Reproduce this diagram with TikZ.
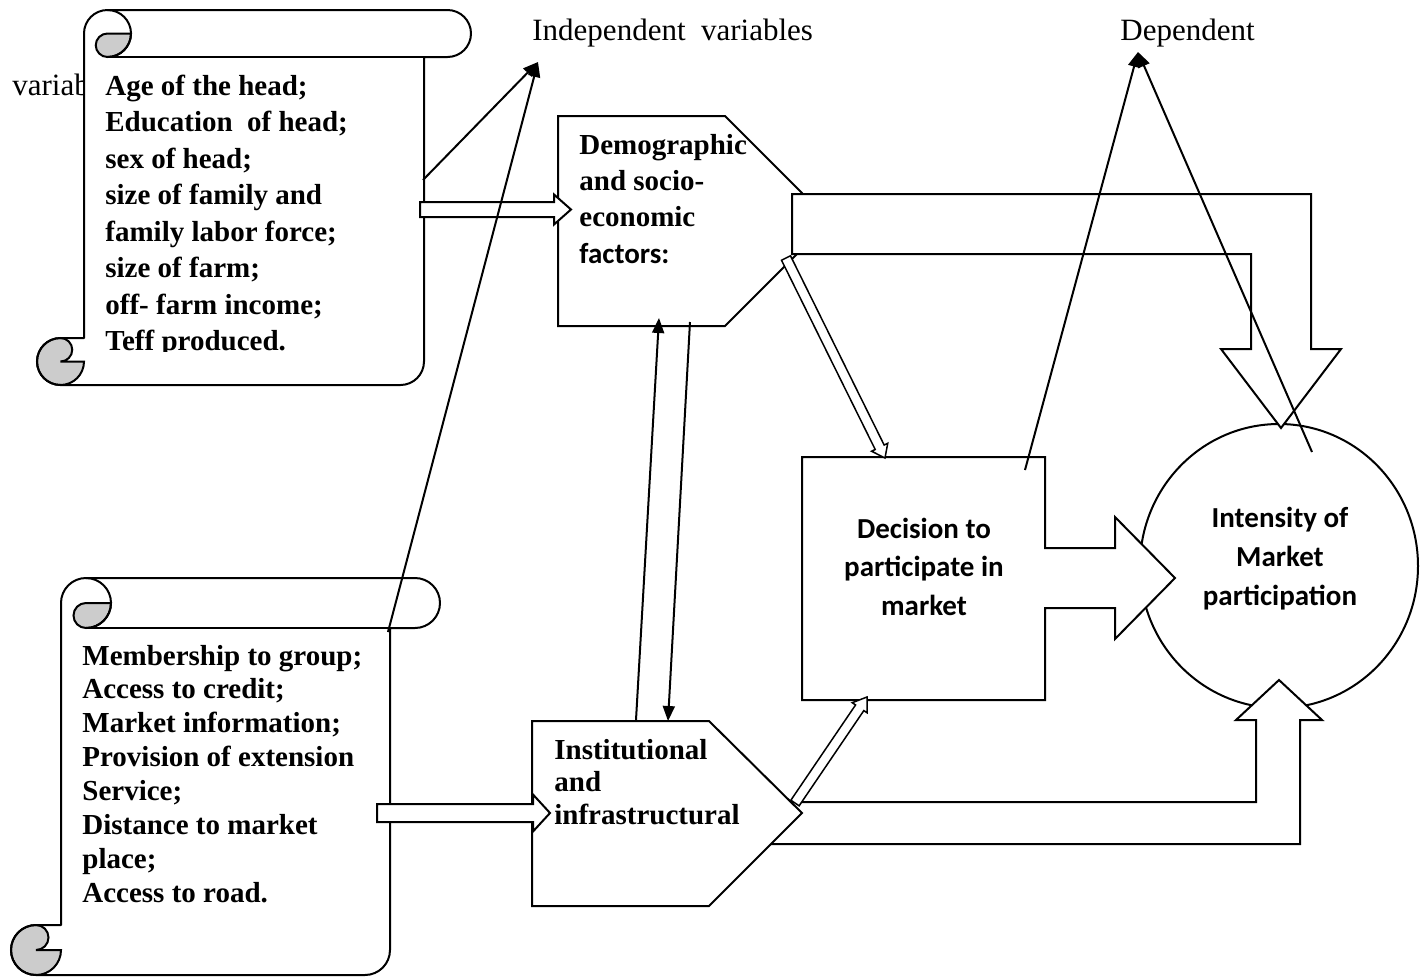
\documentclass[tikz,border=0pt]{standalone}
\usepackage{fontspec}
\setmainfont{Liberation Serif}
\newfontfamily\carlito{Carlito}
\usetikzlibrary{calc,arrows.meta,shapes.geometric}

\tikzset{
  shapeline/.style={draw=black, line width=1pt, fill=white, line join=miter},
  blockarrow/.style={draw=black, line width=1pt, fill=white, line join=miter},
  thinarrow/.style={draw=black, line width=1pt, -{Triangle[length=7.5pt,width=6pt]}},
  boldtext/.style={inner sep=0pt, anchor=base west, font=\bfseries},
  lbl/.style={inner sep=0pt, anchor=base west, font=\fontsize{15.5}{18}\selectfont},
  curl/.style={draw=black, line width=1pt, fill=black!20},
}

% vertical scroll: l, t, r, b, ch (picture units, y downwards)
\newcommand{\vscroll}[5]{%
  \pgfmathsetmacro\sL{#1}\pgfmathsetmacro\sT{#2}\pgfmathsetmacro\sR{#3}%
  \pgfmathsetmacro\sB{#4}\pgfmathsetmacro\sC{#5}%
  \pgfmathsetmacro\sH{\sC/2}\pgfmathsetmacro\sQ{\sC/4}%
  \pgfmathsetmacro\xA{\sL+\sH}\pgfmathsetmacro\xB{\sL+\sC}%
  \pgfmathsetmacro\xC{\sL+\sC+\sH}\pgfmathsetmacro\xD{\sL+2*\sC}%
  \pgfmathsetmacro\xE{\sR-\sC}\pgfmathsetmacro\xF{\sR-\sH}%
  \pgfmathsetmacro\yA{\sT+\sH}\pgfmathsetmacro\yB{\sT+\sC}%
  \pgfmathsetmacro\yC{\sB-\sC}\pgfmathsetmacro\yD{\sB-\sH}%
  \fill[white] (\xB,\yC) -- (\xB,\yA) arc[start angle=180,delta angle=90,radius=\sH]
     -- (\xF,\sT) arc[start angle=270,delta angle=180,radius=\sH]
     -- (\xE,\yB) -- (\xE,\yD) arc[start angle=0,delta angle=90,radius=\sH]
     -- (\xA,\sB) arc[start angle=90,delta angle=180,radius=\sH] -- cycle;
  \draw[curl] (\xD,\yA) arc[start angle=0,delta angle=90,radius=\sH]
     arc[start angle=90,delta angle=180,radius=\sQ] -- cycle;
  \draw[curl] (\xB,\yD) arc[start angle=0,delta angle=270,radius=\sH]
     arc[start angle=270,delta angle=180,radius=\sQ] -- cycle;
  \draw[line width=1pt, line join=round] (\xB,\yC) -- (\xB,\yA) arc[start angle=180,delta angle=90,radius=\sH]
     -- (\xF,\sT) arc[start angle=270,delta angle=180,radius=\sH]
     -- (\xE,\yB) -- (\xE,\yD) arc[start angle=0,delta angle=90,radius=\sH]
     -- (\xA,\sB) arc[start angle=90,delta angle=180,radius=\sH] -- cycle;
  \draw[line width=1pt] (\xC,\sT) arc[start angle=270,delta angle=180,radius=\sH];
  \draw[line width=1pt] (\xE,\yB) -- (\xC,\yB);
}

% hollow arrow: start, end, half width, head length, head half width, line width
\newcommand{\hollowarrow}[6]{%
  \coordinate (hb) at ($(#2)!#4!(#1)$);
  \draw[blockarrow, line width=#6]
    ($(#1)!#3!90:(#2)$) -- ($(hb)!#3!90:(#2)$) -- ($(hb)!#5!90:(#2)$) -- (#2)
    -- ($(hb)!#5!-90:(#2)$) -- ($(hb)!#3!-90:(#2)$) -- ($(#1)!#3!-90:(#2)$) -- cycle;
}

\begin{document}
\begin{tikzpicture}[x=0.5pt,y=-0.5pt]
\useasboundingbox (0,0) rectangle (1421,976);

% text partly hidden by the scroll
\node[lbl] (varl) at (12,95) {variab};

% scrolls
\vscroll{37}{10}{471}{385}{47}
\vscroll{11}{578}{440}{975}{50}

% intensity ellipse
\node[draw, line width=1pt, ellipse, minimum width=139pt, minimum height=142pt, inner sep=0pt, fill=white] (intens) at (1279,566) {};

% bottom bent block arrow (institutional -> intensity)
\draw[blockarrow] (760,844) -- (1300,844) -- (1300,720) -- (1322,720) -- (1279,680)
  -- (1236,720) -- (1256,720) -- (1256,802) -- (760,802) -- cycle;

% institutional pentagon
\draw[shapeline] (532,721) -- (709,721) -- (802,813) -- (709,906) -- (532,906) -- cycle;

% demographic octagon
\draw[shapeline] (558,116) -- (725,116) -- (802,193) -- (802,249) -- (725,326) -- (558,326) -- cycle;

% top bent block arrow (demographic -> intensity)
\draw[blockarrow] (792,194) -- (1311,194) -- (1311,349) -- (1341,349) -- (1281,428)
  -- (1221,349) -- (1251,349) -- (1251,254) -- (792,254) -- cycle;

% decision callout with arrow
\draw[shapeline] (802,457) -- (1045,457) -- (1045,548) -- (1115,548) -- (1115,517)
  -- (1175,578) -- (1115,639) -- (1115,608) -- (1045,608) -- (1045,700) -- (802,700) -- cycle;

% hollow arrows
\coordinate (s1a) at (420,209.5);  \coordinate (demIn) at (571,209.5);
\coordinate (s2a) at (377,813);    \coordinate (instIn) at (550,813);
\coordinate (demOut) at (786,258); \coordinate (decIn) at (885,458);
\coordinate (instOut) at (795,803);\coordinate (decIn2) at (867,697);
\hollowarrow{s1a}{demIn}{3.75pt}{8.5pt}{7.5pt}{1pt}
\hollowarrow{s2a}{instIn}{4.5pt}{8.5pt}{9.25pt}{1pt}
\hollowarrow{demOut}{decIn}{2.5pt}{6pt}{4.5pt}{0.75pt}
\hollowarrow{instOut}{decIn2}{2.5pt}{6.5pt}{4.5pt}{0.75pt}

% labels
\node[lbl] (indep) at (532,40.7) {Independent\ \ variables};
\node[lbl] (dep) at (1120,40.7) {Dependent};

% thin arrows
\coordinate (indepTip) at (538,62);  \coordinate (depTip) at (1138,52);
\coordinate (s1r) at (423,180);      \coordinate (s2r) at (388,632);
\coordinate (decTop) at (1025,470);  \coordinate (intTop) at (1312,452);
\coordinate (demB1) at (659,318);    \coordinate (instT1) at (636,720);
\coordinate (demB2) at (690,322);    \coordinate (instT2) at (668,721);
\draw[thinarrow] (s1r) -- (indepTip);
\draw[thinarrow] (s2r) -- (indepTip);
\draw[thinarrow] (decTop) -- (depTip);
\draw[thinarrow] (intTop) -- (depTip);
\draw[thinarrow] (instT1) -- (demB1);
\draw[thinarrow] (demB2) -- (instT2);

% texts
\begin{scope}
\clip (84,40) rectangle (424,351.5);
\node[boldtext] (s1text) at (105,95) {\fontsize{14.5}{18.25}\selectfont\begin{tabular}[t]{@{}l@{}}
Age of the head;\\
Education\ \ of head;\\
sex of head;\\
size of family and\\
family labor force;\\
size of farm;\\
off- farm income;\\
Teff produced.\end{tabular}};
\end{scope}

\node[boldtext] (s2text) at (82,665) {\fontsize{14.5}{16.95}\selectfont\begin{tabular}[t]{@{}l@{}}
Membership to group;\\
Access to credit;\\
Market information;\\
Provision of extension\\
Service;\\
Distance to market\\
place;\\
Access to road.\end{tabular}};

\node[boldtext] (demtext) at (579,154) {\fontsize{14.5}{18.2}\selectfont\begin{tabular}[t]{@{}l@{}}
Demographic\\
and socio-\\
economic\\
{\carlito\bfseries factors:}\end{tabular}};

\node[boldtext] (insttext) at (554,759) {\fontsize{14.5}{16.25}\selectfont\begin{tabular}[t]{@{}l@{}}
Institutional\\
and\\
infrastructural\end{tabular}};

\node[inner sep=0pt, anchor=base] (dectext) at (924,538) {\carlito\bfseries\fontsize{14.5}{19.25}\selectfont\begin{tabular}[t]{@{}c@{}}
Decision to\\
participate in\\
market\end{tabular}};

\node[inner sep=0pt, anchor=base] (inttext) at (1280,527) {\carlito\bfseries\fontsize{14.5}{19.5}\selectfont\begin{tabular}[t]{@{}c@{}}
Intensity of\\
Market\\
participation\end{tabular}};
\end{tikzpicture}
\end{document}
